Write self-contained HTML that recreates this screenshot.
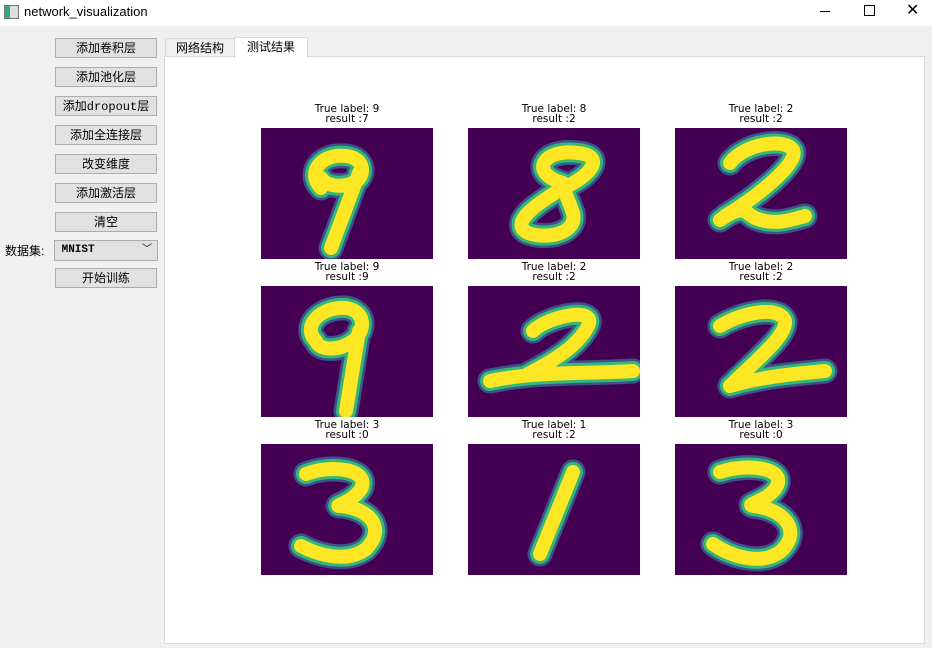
<!DOCTYPE html>
<html><head><meta charset="utf-8"><style>
body{margin:0;width:932px;height:648px;background:#f0f0f0;font-family:"Liberation Sans","Noto Sans CJK SC",sans-serif;position:relative;overflow:hidden}
.abs{position:absolute}
.btn{position:absolute;left:55px;width:100px;height:18px;border:1px solid #adadad;background:#e1e1e1;font-size:12px;text-align:center;line-height:18px;color:#000}
.lbl{position:absolute;width:172px;text-align:center;font-family:"DejaVu Sans",sans-serif;font-size:10.5px;line-height:10px;color:#000}
svg.img{position:absolute}
</style></head><body>
<div class="abs" style="left:0;top:0;width:932px;height:26px;background:#fff">
 <div class="abs" style="left:4px;top:5px;width:13px;height:12px;border:1px solid #777;background:linear-gradient(90deg,#3a7 0 40%,#ddd 40%)"></div>
 <div class="abs" style="left:24px;top:4px;font-size:13px">network_visualization</div>
 <div class="abs" style="left:820px;top:11px;width:10px;height:1px;background:#000"></div>
 <div class="abs" style="left:864px;top:5px;width:9px;height:9px;border:1px solid #000"></div>
 <div class="abs" style="left:906px;top:0px;font-size:16px">✕</div>
</div>
<div class="btn" style="top:38px">添加卷积层</div>
<div class="btn" style="top:67px">添加池化层</div>
<div class="btn" style="top:96px">添加<span style="font-family:'Liberation Mono',monospace">dropout</span>层</div>
<div class="btn" style="top:125px">添加全连接层</div>
<div class="btn" style="top:154px">改变维度</div>
<div class="btn" style="top:183px">添加激活层</div>
<div class="btn" style="top:212px">清空</div>
<div class="abs" style="left:5px;top:242px;font-size:12px">数据集:</div>
<div class="abs" style="left:54px;top:240px;width:102px;height:19px;border:1px solid #adadad;background:#e1e1e1;font-size:11px;font-family:'Liberation Mono',monospace;line-height:19px;font-weight:bold">&nbsp;MNIST<span style="position:absolute;right:5px;top:0;font-weight:normal;font-size:10px">﹀</span></div>
<div class="btn" style="top:268px">开始训练</div>
<div class="abs" style="left:165px;top:38px;width:68px;height:18px;border:1px solid #d9d9d9;border-bottom:none;background:#f0f0f0;font-size:12px;text-align:center;line-height:18px">网络结构</div>
<div class="abs" style="left:234px;top:37px;width:72px;height:20px;border:1px solid #d9d9d9;border-bottom:none;background:#fff;font-size:12px;text-align:center;line-height:19px;z-index:2">测试结果</div>
<div class="abs" style="left:164px;top:56px;width:759px;height:586px;border:1px solid #d9d9d9;background:#fff"></div>
<div id="grid"></div>
<script>
const trueLabels=[9,8,2,9,2,2,3,1,3];
const results=[7,2,2,9,2,2,0,2,0];
const cols=[261,468,675], rows=[128,286,444];
const digitPaths=[
 "M60 60 C45 45 60 25 85 28 C105 30 105 50 92 55 C80 60 65 58 60 50 M98 45 L70 120",
 "M95 55 C60 45 75 20 110 25 C140 28 120 50 95 60 C70 75 40 95 60 105 C80 112 110 105 105 85 C100 70 95 62 95 55",
 "M55 35 C70 15 110 10 118 22 C125 35 80 70 50 88 M45 92 C70 75 70 85 80 90 C100 98 115 92 130 88",
 "M55 55 C40 40 60 20 85 22 C105 25 105 45 92 55 C78 65 58 65 55 55 M98 45 L85 125",
 "M65 45 C80 30 130 20 120 40 C110 60 85 75 60 88 M22 95 C70 85 120 88 165 85",
 "M45 40 C70 25 105 20 110 35 C112 50 80 75 55 100 C90 90 120 88 150 85",
 "M45 30 C70 20 110 25 100 45 C90 60 70 62 80 62 C110 65 125 85 105 105 C85 120 55 110 40 102",
 "M105 28 L72 110",
 "M45 28 C75 18 115 25 100 45 C90 58 70 60 78 62 C110 65 128 88 105 108 C85 122 55 112 38 100"
];
const grid=document.getElementById('grid');
for(let i=0;i<9;i++){
 const x=cols[i%3], y=rows[Math.floor(i/3)];
 const t=document.createElement('div');
 t.className='lbl';
 t.style.left=x+'px'; t.style.top=(y-24)+'px';
 t.innerHTML='True label: '+trueLabels[i]+'<br>result :'+results[i];
 
 
 grid.appendChild(t);
 const s=document.createElementNS('http://www.w3.org/2000/svg','svg');
 s.setAttribute('class','img');
 s.setAttribute('width',172);s.setAttribute('height',131);
 s.style.left=x+'px';s.style.top=y+'px';
 s.innerHTML='<rect width="172" height="131" fill="#440154"/>'+
  '<path d="'+digitPaths[i]+'" fill="none" stroke="#3b528b" stroke-width="25" stroke-linecap="round" stroke-linejoin="round"/>'+
  '<path d="'+digitPaths[i]+'" fill="none" stroke="#35b779" stroke-width="20" stroke-linecap="round" stroke-linejoin="round"/>'+
  '<path d="'+digitPaths[i]+'" fill="none" stroke="#fde725" stroke-width="14" stroke-linecap="round" stroke-linejoin="round"/>';
 
 
 grid.appendChild(s);
}
</script>
</body></html>
